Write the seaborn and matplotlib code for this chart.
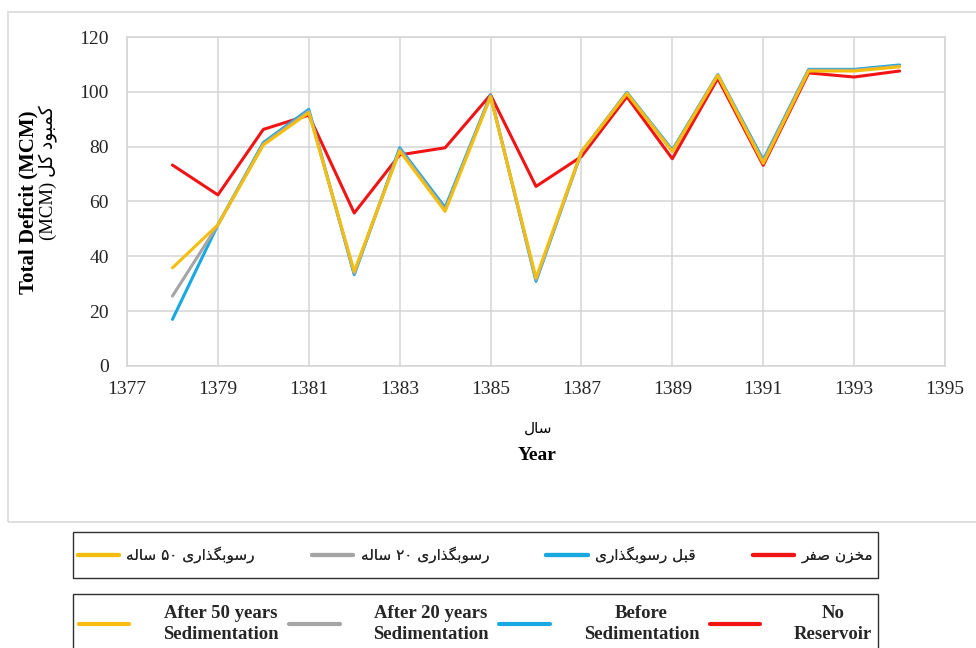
import numpy as np
import pandas as pd
import matplotlib
matplotlib.use("Agg")
import matplotlib.pyplot as plt
from matplotlib.lines import Line2D
from matplotlib.patches import Rectangle
import seaborn as sns

# ---------------- data ----------------
years = [1378, 1379, 1380, 1381, 1382, 1383, 1384, 1385, 1386,
         1387, 1388, 1389, 1390, 1391, 1392, 1393, 1394]
no_reservoir = [73.3, 62.4, 86.3, 91.5, 55.8, 77.0, 79.6, 98.9, 65.5,
                76.4, 98.2, 75.6, 104.9, 73.2, 106.9, 105.4, 107.6]
before_sed = [17.0, 51.5, 81.5, 93.6, 33.3, 79.6, 57.8, 98.8, 30.9,
              78.0, 99.8, 78.8, 106.3, 75.2, 108.2, 108.2, 109.8]
after20_sed = [25.5, 51.5, 81.0, 93.0, 33.8, 79.0, 57.0, 98.5, 31.5,
               78.0, 99.6, 78.4, 106.2, 74.6, 107.9, 107.9, 109.4]
after50_sed = [35.8, 51.5, 80.6, 92.4, 34.5, 78.4, 56.4, 98.2, 32.1,
               78.2, 99.4, 78.2, 106.0, 73.9, 107.6, 107.6, 109.1]

series_keys = ["No Reservoir", "Before Sedimentation",
               "After 20 years Sedimentation", "After 50 years Sedimentation"]
series_colors = ["#F01414", "#18A9E1", "#A5A5A5", "#F5BE0F"]
fa_labels = ["مخزن صفر", "قبل رسوبگذاری", "رسوبگذاری ۲۰ ساله", "رسوبگذاری ۵۰ ساله"]
en_labels = ["No\nReservoir", "Before\nSedimentation",
             "After 20 years\nSedimentation", "After 50 years\nSedimentation"]
xticks = list(range(1377, 1396, 2))
yticks = list(range(0, 121, 20))


# ---------------- minimal Persian shaping (visual order) ----------------
FORMS = {
    '\u0627': (0xFE8D, 0xFE8E),
    '\u0628': (0xFE8F, 0xFE90, 0xFE91, 0xFE92),
    '\u062E': (0xFEA5, 0xFEA6, 0xFEA7, 0xFEA8),
    '\u062F': (0xFEA9, 0xFEAA),
    '\u0630': (0xFEAB, 0xFEAC),
    '\u0631': (0xFEAD, 0xFEAE),
    '\u0632': (0xFEAF, 0xFEB0),
    '\u0633': (0xFEB1, 0xFEB2, 0xFEB3, 0xFEB4),
    '\u0635': (0xFEB9, 0xFEBA, 0xFEBB, 0xFEBC),
    '\u0641': (0xFED1, 0xFED2, 0xFED3, 0xFED4),
    '\u0642': (0xFED5, 0xFED6, 0xFED7, 0xFED8),
    '\u0644': (0xFEDD, 0xFEDE, 0xFEDF, 0xFEE0),
    '\u0645': (0xFEE1, 0xFEE2, 0xFEE3, 0xFEE4),
    '\u0646': (0xFEE5, 0xFEE6, 0xFEE7, 0xFEE8),
    '\u0647': (0xFEE9, 0xFEEA, 0xFEEB, 0xFEEC),
    '\u0648': (0xFEED, 0xFEEE),
    '\u06A9': (0xFB8E, 0xFB8F, 0xFB90, 0xFB91),
    '\u06AF': (0xFB92, 0xFB93, 0xFB94, 0xFB95),
    '\u06CC': (0xFBFC, 0xFBFD, 0xFBFE, 0xFBFF),
}


def fa(text):
    text = text.replace('\u064A', '\u06CC').replace('\u0643', '\u06A9')
    chars = list(text)
    out = []
    for i, c in enumerate(chars):
        if c not in FORMS:
            out.append(c)
            continue
        prev = chars[i - 1] if i > 0 else None
        nxt = chars[i + 1] if i + 1 < len(chars) else None
        j_prev = prev in FORMS and len(FORMS[prev]) == 4
        j_next = len(FORMS[c]) == 4 and nxt in FORMS
        f = FORMS[c]
        if j_prev and j_next:
            g = f[3]
        elif j_prev:
            g = f[1]
        elif j_next:
            g = f[2]
        else:
            g = f[0]
        out.append(chr(g))
    out = out[::-1]
    # keep digit runs left-to-right
    res, i = [], 0
    while i < len(out):
        if out[i].isdigit():
            j = i
            while j < len(out) and out[j].isdigit():
                j += 1
            res.extend(out[i:j][::-1])
            i = j
        else:
            res.append(out[i])
            i += 1
    return ''.join(res)


# ---------------- figure ----------------
sns.set_theme(style="white")
plt.rcParams['font.family'] = ['Liberation Serif', 'DejaVu Sans']

W, H = 976, 648
fig = plt.figure(figsize=(W / 100, H / 100), dpi=100)
ax = fig.add_axes([127 / W, 1 - 366 / H, (945 - 127) / W, (366 - 37) / H])

df = pd.DataFrame({
    "Year": years * 4,
    "Deficit": no_reservoir + before_sed + after20_sed + after50_sed,
    "Series": sum([[k] * len(years) for k in series_keys], []),
})
sns.lineplot(data=df, x="Year", y="Deficit", hue="Series", hue_order=series_keys,
             palette=dict(zip(series_keys, series_colors)), linewidth=2.2,
             legend=False, ax=ax)

ax.set_xlim(1377, 1395)
ax.set_ylim(0, 120)
ax.set_xticks(xticks)
ax.set_yticks(yticks)
ax.set_xlabel("")
ax.set_ylabel("")
ax.grid(True, color="#D4D4D4", linewidth=1.1)
ax.set_axisbelow(True)
for s in ax.spines.values():
    s.set_color("#D4D4D4")
    s.set_linewidth(1.1)
ax.tick_params(axis='both', length=0, labelsize=14, labelcolor="#262626",
               labelfontfamily='Liberation Serif')
ax.tick_params(axis='y', pad=13)
ax.tick_params(axis='x', pad=11)

# axis titles
fig.text(28 / W, 1 - 202 / H, "Total Deficit (MCM)", rotation=90, ha='center', va='center',
         fontsize=15, fontweight='bold', family='Liberation Serif', color='black')
fig.text(48 / W, 1 - 105 / H, "(MCM) " + fa("کمبود کل"), rotation=90,
         rotation_mode='anchor', ha='right', va='center', fontsize=13.5,
         family=['Liberation Serif', 'DejaVu Sans'], color='black')
fig.text(538 / W, 1 - 428 / H, fa("سال"), ha='center', va='center', fontsize=11,
         family=['DejaVu Sans'], color='black')
fig.text(537 / W, 1 - 455 / H, "Year", ha='center', va='center', fontsize=14,
         fontweight='bold', family='Liberation Serif', color='black')

# outer chart border
fig.add_artist(Rectangle((8 / W, 1 - 522 / H), (W - 8) / W + 0.01, (522 - 12) / H,
                         transform=fig.transFigure, fill=False,
                         edgecolor="#D9D9D9", linewidth=1.2))

# legend boxes
fig.add_artist(Rectangle((73 / W, 1 - 578 / H), (878 - 73) / W, (578 - 532) / H,
                         transform=fig.transFigure, fill=False,
                         edgecolor="#303030", linewidth=1.0))
fig.add_artist(Rectangle((73 / W, -0.05), (878 - 73) / W, (1 - 594 / H) + 0.05,
                         transform=fig.transFigure, fill=False,
                         edgecolor="#303030", linewidth=1.0))

# legends (order left to right: 50y, 20y, before, none)
order = [3, 2, 1, 0]
handles = [Line2D([], [], color=series_colors[i], linewidth=3) for i in order]

leg1 = fig.legend(handles, [fa(fa_labels[i]) for i in order], loc='center',
                  bbox_to_anchor=(73 / W, 1 - 578 / H, (878 - 73) / W, (578 - 532) / H),
                  mode='expand', ncol=4, borderaxespad=0, frameon=False,
                  handlelength=2.7, handletextpad=0.5, borderpad=0.3,
                  prop={'family': ['DejaVu Sans'], 'size': 11})

leg2 = fig.legend(handles, [en_labels[i] for i in order], loc='center',
                  bbox_to_anchor=(73 / W, 1 - 650 / H, (878 - 73) / W, (650 - 598) / H),
                  mode='expand', ncol=4, borderaxespad=0, frameon=False,
                  handlelength=2.7, handletextpad=1.8, borderpad=0.3,
                  prop={'family': 'Liberation Serif', 'weight': 'bold', 'size': 13.5})
for t in leg2.get_texts():
    t.set_multialignment('center')
    t.set_linespacing(1.3)
fig.add_artist(leg1)

fig.savefig("out.png", dpi=100)
